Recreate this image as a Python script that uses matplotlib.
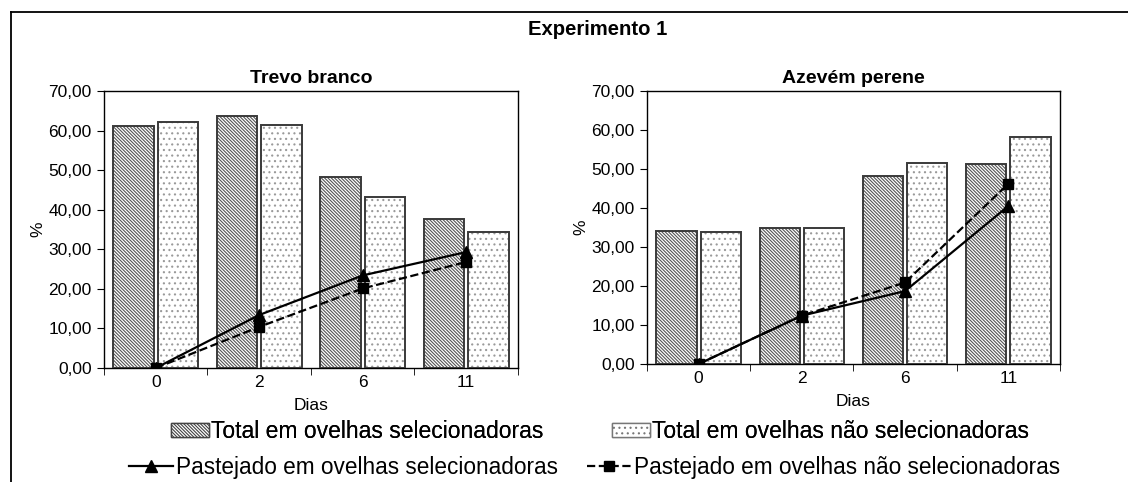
import matplotlib
matplotlib.use('Agg')
import matplotlib.pyplot as plt
from matplotlib.patches import Patch
from matplotlib.lines import Line2D
from matplotlib.ticker import FuncFormatter
import numpy as np

plt.rcParams['font.family'] = ['Liberation Sans', 'DejaVu Sans']
plt.rcParams['hatch.linewidth'] = 0.8

dias = ['0', '2', '6', '11']

# Trevo branco
trevo_total_sel = [61.1, 63.6, 48.3, 37.6]
trevo_total_nsel = [62.2, 61.5, 43.2, 34.3]
trevo_past_sel = [0.0, 13.4, 23.4, 29.3]
trevo_past_nsel = [0.0, 10.4, 20.1, 26.8]

# Azevem perene
azev_total_sel = [34.2, 34.8, 48.3, 51.3]
azev_total_nsel = [33.8, 34.8, 51.6, 58.3]
azev_past_sel = [0.0, 12.4, 18.7, 40.5]
azev_past_nsel = [0.0, 12.4, 20.9, 46.2]

HATCH_SEL = '\\' * 10
HATCH_NSEL = '...'

fig = plt.figure(figsize=(11.28, 4.82), dpi=100)

ax1 = fig.add_axes([0.0922, 0.2365, 0.367, 0.5747])
ax2 = fig.add_axes([0.5736, 0.2448, 0.366, 0.5664])

fmt = FuncFormatter(lambda v, p: ('%.2f' % v).replace('.', ','))


def draw(ax, title, tsel, tnsel, psel, pnsel):
    x = np.arange(len(dias))
    w = 0.39
    # hatch layer then outline layer
    ax.bar(x - 0.215, tsel, w, facecolor='white', edgecolor='#555555',
           hatch=HATCH_SEL, linewidth=0, zorder=2)
    ax.bar(x - 0.215, tsel, w, fill=False, edgecolor='#3a3a3a', linewidth=1.4, zorder=3)
    ax.bar(x + 0.215, tnsel, w, facecolor='white', edgecolor='#9a9a9a',
           hatch=HATCH_NSEL, linewidth=0, zorder=2)
    ax.bar(x + 0.215, tnsel, w, fill=False, edgecolor='#3a3a3a', linewidth=1.4, zorder=3)
    ax.plot(x, psel, color='black', lw=1.6, marker='^', ms=8, zorder=4)
    ax.plot(x, pnsel, color='black', lw=1.6, ls='--', marker='s', ms=7, zorder=4)
    ax.set_xlim(-0.5, 3.5)
    ax.set_ylim(0, 70)
    ax.set_yticks(np.arange(0, 71, 10))
    ax.yaxis.set_major_formatter(fmt)
    ax.set_xticks(x)
    ax.set_xticklabels(dias)
    ax.set_xticks(np.arange(-0.5, 3.6, 1), minor=True)
    ax.tick_params(axis='x', which='major', length=0, labelsize=12.5, pad=5)
    ax.tick_params(axis='x', which='minor', length=5, direction='out')
    ax.tick_params(axis='y', length=5, direction='out', labelsize=12.5, pad=4)
    for s in ax.spines.values():
        s.set_linewidth(1.0)
    ax.set_title(title, fontsize=14, fontweight='bold', pad=6)
    ax.set_xlabel('Dias', fontsize=12.5, labelpad=6)
    ax.set_ylabel('%', fontsize=12.5, labelpad=2)


draw(ax1, 'Trevo branco', trevo_total_sel, trevo_total_nsel, trevo_past_sel, trevo_past_nsel)
draw(ax2, 'Azevém perene', azev_total_sel, azev_total_nsel, azev_past_sel, azev_past_nsel)

fig.text(0.53, 0.938, 'Experimento 1', ha='center', va='center', fontsize=14.6, fontweight='bold')

# outer frame (top and left)
fig.add_artist(Line2D([11 / 1128, 1], [1 - 12 / 482, 1 - 12 / 482], color='black', lw=1.3))
fig.add_artist(Line2D([11 / 1128, 11 / 1128], [0, 1 - 12 / 482], color='black', lw=1.3))

h1 = [Patch(facecolor='white', edgecolor='#444444', hatch=HATCH_SEL, lw=1.0),
      Patch(facecolor='white', edgecolor='#777777', hatch=HATCH_NSEL, lw=1.0)]
l1 = ['Total em ovelhas selecionadoras', 'Total em ovelhas não selecionadoras']
leg1 = fig.legend(h1, l1, loc='center', bbox_to_anchor=(0.532, 0.104), ncol=2, frameon=False,
                  fontsize=16.5, handlelength=1.65, handleheight=0.55, handletextpad=0.1,
                  columnspacing=3.0, borderpad=0, borderaxespad=0)

h2 = [Line2D([], [], color='black', lw=1.6, marker='^', ms=8),
      Line2D([], [], color='black', lw=1.6, ls='--', marker='s', ms=7)]
l2 = ['Pastejado em ovelhas selecionadoras', 'Pastejado em ovelhas não selecionadoras']
fig.legend(h2, l2, loc='center', bbox_to_anchor=(0.527, 0.031), ncol=2, frameon=False,
           fontsize=16.3, handlelength=1.95, handletextpad=0.1,
           columnspacing=1.3, borderpad=0, borderaxespad=0)
fig.add_artist(leg1)

fig.savefig('out.png', dpi=100, facecolor='white')
